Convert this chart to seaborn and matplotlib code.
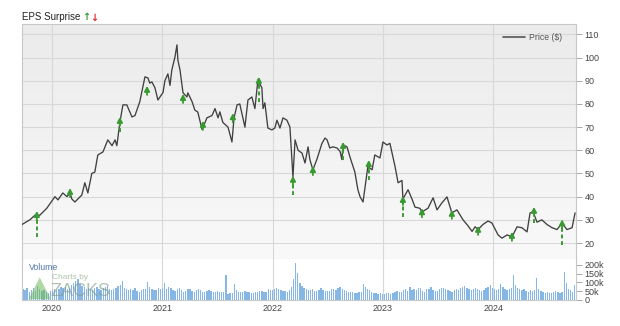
import numpy as np
import pandas as pd
import matplotlib
matplotlib.use("Agg")
import matplotlib.pyplot as plt
import matplotlib.dates as mdates
from matplotlib.ticker import FuncFormatter
import seaborn as sns

# ---------------- data ----------------
price_dates = [
    "2019-09-24", "2019-10-20", "2019-11-06", "2019-11-22", "2019-12-15", "2020-01-11",
    "2020-01-21", "2020-02-06", "2020-02-20", "2020-03-01", "2020-03-07", "2020-03-17",
    "2020-04-09", "2020-04-19", "2020-04-29", "2020-05-12", "2020-05-22", "2020-06-01",
    "2020-06-18", "2020-07-04", "2020-07-18", "2020-07-28", "2020-08-03", "2020-08-13",
    "2020-08-23", "2020-09-05", "2020-09-22", "2020-10-02", "2020-10-18", "2020-11-04",
    "2020-11-14", "2020-11-20", "2020-11-27", "2020-12-07", "2020-12-17", "2021-01-03",
    "2021-01-09", "2021-01-19", "2021-01-26", "2021-02-01", "2021-02-11", "2021-02-18",
    "2021-02-21", "2021-02-28", "2021-03-10", "2021-03-23", "2021-03-26", "2021-04-09",
    "2021-04-18", "2021-04-28", "2021-05-12", "2021-05-22", "2021-05-28", "2021-06-14",
    "2021-06-24", "2021-07-04", "2021-07-10", "2021-07-20", "2021-08-06", "2021-08-19",
    "2021-08-26", "2021-09-05", "2021-09-14", "2021-10-01", "2021-10-11", "2021-10-24",
    "2021-11-03", "2021-11-13", "2021-11-26", "2021-11-30", "2021-12-06", "2021-12-16",
    "2021-12-29", "2022-01-08", "2022-01-15", "2022-01-25", "2022-02-04", "2022-02-17",
    "2022-02-27", "2022-03-09", "2022-03-16", "2022-03-26", "2022-04-08", "2022-04-18",
    "2022-04-28", "2022-05-04", "2022-05-14", "2022-05-27", "2022-06-13", "2022-06-23",
    "2022-06-30", "2022-07-09", "2022-07-19", "2022-08-02", "2022-08-12", "2022-08-18",
    "2022-08-22", "2022-09-04", "2022-09-14", "2022-09-30", "2022-10-10", "2022-10-17",
    "2022-10-27", "2022-11-12", "2022-11-26", "2022-12-05", "2022-12-22", "2023-01-01",
    "2023-01-14", "2023-01-24", "2023-02-10", "2023-02-20", "2023-03-05", "2023-03-08",
    "2023-03-25", "2023-04-07", "2023-04-17", "2023-05-03", "2023-05-10", "2023-05-30",
    "2023-06-16", "2023-06-29", "2023-07-15", "2023-08-01", "2023-08-17", "2023-09-03",
    "2023-09-23", "2023-10-09", "2023-10-23", "2023-11-02", "2023-11-12", "2023-11-28",
    "2023-12-15", "2023-12-28", "2024-01-17", "2024-01-30", "2024-02-16", "2024-03-03",
    "2024-03-20", "2024-04-05", "2024-04-22", "2024-05-02", "2024-05-12", "2024-05-25",
    "2024-06-10", "2024-06-27", "2024-07-14", "2024-07-30", "2024-08-16", "2024-09-01",
    "2024-09-18", "2024-09-28",
]
price = [
    28.0, 30.0, 32.0, 32.0, 35.0, 40.0,
    38.6, 41.6, 40.0, 41.6, 39.0, 37.7,
    40.7, 46.0, 41.6, 50.0, 50.6, 58.0,
    59.3, 64.5, 62.0, 64.5, 62.0, 72.0,
    79.6, 79.6, 74.4, 75.0, 81.0, 91.7,
    91.2, 89.0, 89.5, 87.0, 81.7, 85.0,
    90.0, 93.0, 88.0, 94.7, 100.0, 105.5,
    99.0, 94.7, 84.8, 83.0, 84.8, 81.0,
    77.4, 76.5, 69.0, 72.0, 74.0, 75.0,
    78.0, 74.0, 76.6, 72.0, 70.0, 63.6,
    74.0, 79.6, 80.0, 70.0, 81.7, 83.0,
    78.0, 90.4, 87.0, 78.0, 80.5, 69.6,
    68.8, 69.6, 73.0, 69.6, 74.0, 73.0,
    70.0, 48.5, 64.5, 60.0, 58.8, 54.5,
    61.5, 56.0, 51.6, 56.0, 63.0, 65.3,
    64.5, 61.0, 61.5, 61.0, 59.5, 56.0,
    62.3, 61.5, 57.0, 50.6, 43.0, 40.0,
    37.7, 53.0, 51.6, 58.0, 56.7, 63.6,
    62.3, 63.0, 53.0, 46.0, 47.0, 39.0,
    43.0, 39.0, 35.5, 35.0, 33.4, 35.0,
    39.5, 34.3, 37.3, 39.9, 33.0, 34.3,
    30.0, 27.5, 25.0, 27.0, 25.8, 28.0,
    29.5, 28.6, 23.5, 22.1, 23.5, 22.6,
    27.0, 26.6, 24.8, 33.0, 33.4, 29.0,
    30.0, 28.0, 26.6, 25.8, 28.6, 25.8,
    26.6, 33.0,
]

# EPS surprise events (all positive): arrow tip and lower end of the dashed line
eps_dates = [
    "2019-11-12", "2020-03-01", "2020-08-13", "2020-11-11", "2021-03-10", "2021-05-15",
    "2021-08-22", "2021-11-16", "2022-03-09", "2022-05-14", "2022-08-22", "2022-11-15",
    "2023-03-08", "2023-05-10", "2023-08-17", "2023-11-12", "2024-03-03", "2024-05-15",
    "2024-08-16",
]
eps_tip = [33.8, 43.7, 74.4, 87.8, 84.3, 72.7, 76.0, 91.7, 49.0, 53.2, 63.6, 55.8,
           40.3, 35.0, 34.3, 27.4, 24.8, 35.6, 30.2]
eps_low = [22.6, 43.7, 68.0, 87.8, 84.3, 72.7, 76.0, 81.0, 40.7, 53.2, 56.0, 47.2,
           31.2, 35.0, 34.3, 27.4, 24.8, 28.6, 19.0]

# weekly volume, thousands of shares
volume_start = "2019-09-27"
volume_k = [
    62, 55, 70, 48, 58, 66, 52, 80, 60, 50, 57, 45, 40, 52,
    55, 60, 58, 65, 72, 68, 75, 62, 70, 85, 95, 110, 118, 90, 80, 72, 65,
    70, 62, 58, 66, 75, 60, 55, 68, 72, 80, 65, 58, 62, 70, 78, 85,
    108,
    70, 60, 55, 62, 58, 66, 52, 48, 55, 60, 64,
    103,
    72, 60, 55, 58, 70, 62, 68,
    97,
    60, 75, 68, 58, 52, 62, 70, 55, 48, 52, 60, 64, 50, 46, 58, 62, 55, 48, 44, 50,
    56, 52, 47, 45, 50, 48, 46, 44,
    143,
    35, 40, 42,
    91,
    55, 48, 46, 44, 50, 47, 45, 42, 40, 46, 44, 50, 52, 45, 48, 60, 58, 55, 62, 70,
    64, 58, 50, 52, 48, 55, 72,
    120, 211, 154,
    95, 80, 70, 62, 58, 55, 60, 52, 50, 56, 66, 58, 54, 50, 52, 60, 62, 55, 68, 72,
    63, 58, 52, 48, 46, 44, 42, 40, 45, 48,
    91,
    75, 60, 55, 48, 42, 38, 35, 40, 32, 36, 42, 38, 35, 40, 45, 50, 48, 44, 55, 60, 52,
    74,
    55, 62, 58, 66, 70, 52, 48, 60, 64, 72, 58, 50, 54, 60, 66, 70, 62, 56, 50, 48,
    55, 62, 58, 66, 75, 80, 68, 60, 58, 64, 70, 62, 55, 50, 58, 66, 72, 86, 70, 62,
    56, 60, 90, 75, 64, 58, 62, 68,
    143,
    85, 70, 62, 55, 60, 52, 48, 58, 50, 55,
    126,
    60, 50, 45, 42, 48, 40, 38, 44, 50, 46, 42, 48,
    160, 97,
    60, 55, 48,
    86,
]

year_ticks = ["2020", "2021", "2022", "2023", "2024"]
price_ticks = [20, 30, 40, 50, 60, 70, 80, 90, 100, 110]
volume_ticks = [0, 50000, 100000, 150000, 200000]

# ---------------- styling ----------------
sns.set_style("white")
plt.rcParams["font.family"] = ["Liberation Sans", "DejaVu Sans"]

LINE = "#404040"
GRID = "#d8d8d8"
SPINE = "#c8c8c8"
TXT = "#444444"
GREEN = "#3a9a32"
RED = "#e0262a"
BAR = "#86b6e6"

price_df = pd.DataFrame({"date": pd.to_datetime(price_dates), "price": price})
eps_df = pd.DataFrame({"date": pd.to_datetime(eps_dates), "tip": eps_tip, "low": eps_low})
vol_df = pd.DataFrame({
    "date": pd.date_range(volume_start, periods=len(volume_k), freq="7D"),
    "volume": np.array(volume_k) * 1000,
})

fig = plt.figure(figsize=(6.2, 3.26), dpi=100)
ax = fig.add_axes([0.0355, 0.2055, 0.8935, 0.7209])
axv = fig.add_axes([0.0355, 0.0798, 0.8935, 0.1258], sharex=ax)

xmin = pd.Timestamp("2019-09-24")
xmax = pd.Timestamp("2024-10-01")

# gradient background for price panel
grad = np.linspace(0, 1, 256).reshape(-1, 1)
ax.imshow(grad, extent=[0, 1, 0, 1], transform=ax.transAxes, aspect="auto",
          cmap=matplotlib.colors.LinearSegmentedColormap.from_list("bg", ["#f9f9f9", "#ebebeb"]),
          origin="lower", zorder=0)

# price line
sns.lineplot(data=price_df, x="date", y="price", ax=ax, color=LINE, lw=0.95,
             zorder=3, legend=False)

# EPS surprise markers
for _, r in eps_df.iterrows():
    if r["tip"] - r["low"] > 3.5:
        ax.vlines(r["date"], r["low"], r["tip"] - 2.5, colors=GREEN, lw=1.4,
                  linestyles=(0, (2, 1.4)), zorder=4)
    ax.annotate("", xy=(r["date"], r["tip"]), xytext=(0, -6.5), textcoords="offset points",
                arrowprops=dict(arrowstyle="-|>,head_width=0.16,head_length=0.3",
                                color=GREEN, lw=1.3, shrinkA=0, shrinkB=0), zorder=5)

ax.set_ylim(13.1, 114.5)
ax.set_xlim(xmin, xmax)
ax.set_yticks(price_ticks)
ax.yaxis.tick_right()
ax.grid(True, axis="y", color=GRID, lw=0.8)
ax.grid(True, axis="x", color=GRID, lw=0.8)
ax.set_axisbelow(True)
ax.xaxis.set_major_locator(mdates.YearLocator())
ax.tick_params(axis="x", labelbottom=False, length=0)
ax.tick_params(axis="y", labelsize=6.5, colors=TXT, length=4, width=0.6, pad=2, color="#999999")
ax.set_xlabel("")
ax.set_ylabel("")
for s in ax.spines.values():
    s.set_color(SPINE)
    s.set_linewidth(0.8)

# legend
leg_line, = ax.plot([], [], color="#555555", lw=1.2)
ax.legend([leg_line], ["Price ($)"], loc="upper right", bbox_to_anchor=(0.985, 0.985),
          frameon=False, fontsize=6.2, handlelength=2.6, handletextpad=0.5, borderaxespad=0.2,
          labelcolor="#555555")

# volume
axv.bar(vol_df["date"], vol_df["volume"], width=4.4, color=BAR, edgecolor="none", zorder=2)
axv.set_ylim(0, 234000)
axv.set_yticks(volume_ticks)
axv.yaxis.tick_right()
axv.yaxis.set_major_formatter(FuncFormatter(lambda v, p: "0" if v == 0 else f"{int(v/1000)}k"))
axv.grid(True, axis="x", color=GRID, lw=0.8)
axv.set_axisbelow(True)
axv.xaxis.set_major_locator(mdates.YearLocator())
axv.xaxis.set_major_formatter(mdates.DateFormatter("%Y"))
axv.tick_params(axis="x", labelsize=6.5, colors=TXT, length=0, pad=3)
axv.tick_params(axis="y", labelsize=6.5, colors=TXT, length=4, width=0.6, pad=2, color="#999999")
axv.set_facecolor("white")
for s in axv.spines.values():
    s.set_color(SPINE)
    s.set_linewidth(0.8)
axv.spines["top"].set_visible(False)

axv.text(0.012, 0.78, "Volume", transform=axv.transAxes, fontsize=6.3, color="#4f74ad",
         va="center", ha="left", zorder=6)

# watermark
axv.text(0.055, 0.55, "Charts by", transform=axv.transAxes, fontsize=6, color="#8fae8f",
         alpha=0.75, va="center", ha="left", zorder=6)
axv.text(0.052, 0.2, "ZACKS", transform=axv.transAxes, fontsize=13, color="#7d9a86",
         alpha=0.6, va="center", ha="left", zorder=6)
tri = plt.Polygon([[0.012, 0.02], [0.052, 0.02], [0.032, 0.55]], closed=True,
                  transform=axv.transAxes, facecolor="#6dbb5a", alpha=0.55, edgecolor="none",
                  zorder=6)
axv.add_patch(tri)

# title
fig.text(22 / 620, 1 - 17.5 / 326, "EPS Surprise", fontsize=7, color="#222222",
         va="center", ha="left")
fig.text(82 / 620, 1 - 17.5 / 326, "\u2191", fontsize=7, color=GREEN, fontweight="bold",
         va="center", ha="left", family=["DejaVu Sans"])
fig.text(90 / 620, 1 - 17.5 / 326, "\u2193", fontsize=7, color=RED, fontweight="bold",
         va="center", ha="left", family=["DejaVu Sans"])

fig.savefig("out.png", dpi=100, facecolor="white")
